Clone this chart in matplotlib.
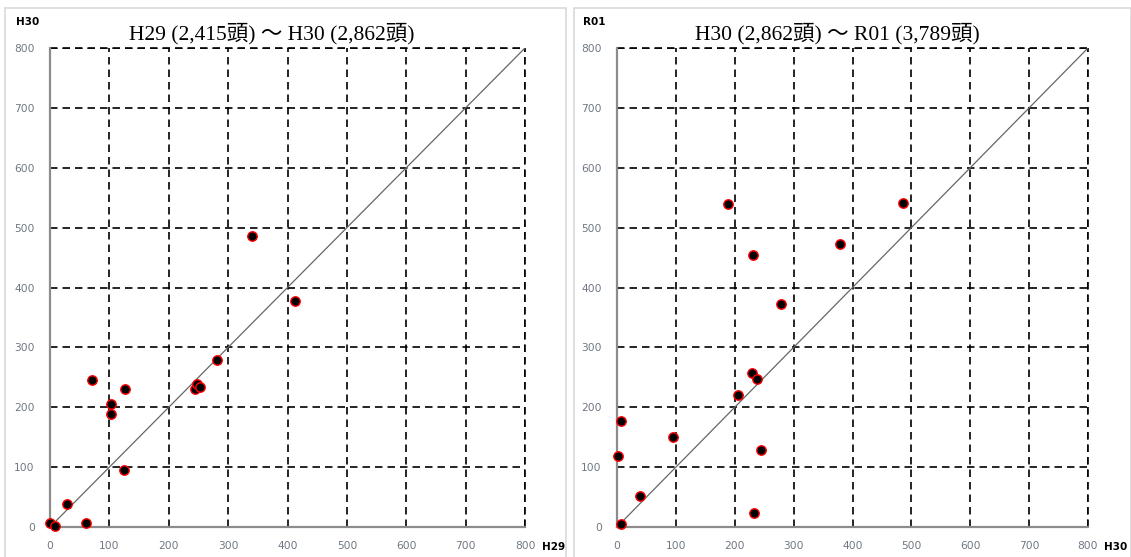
import matplotlib.pyplot as plt
from matplotlib.patches import Rectangle

# H29 -> H30 (farm sizes, heads)
h29_a = [0, 8, 61, 29, 71, 103, 103, 126, 124, 244, 247, 252, 282, 341, 413]
h30_a = [7, 2, 6, 39, 245, 205, 189, 230, 95, 231, 238, 233, 279, 486, 378]

# H30 -> R01
h30_b = [2, 6, 7, 39, 95, 205, 245, 230, 231, 233, 238, 189, 279, 378, 486]
r01_b = [118, 5, 177, 51, 150, 220, 128, 258, 454, 24, 248, 540, 373, 473, 541]

titles = ["H29 (2,415頭) ～ H30 (2,862頭)", "H30 (2,862頭) ～ R01 (3,789頭)"]
xnames = ["H29", "H30"]
ynames = ["H30", "R01"]
ticks = list(range(0, 900, 100))

TITLE_FONT = ["Liberation Serif", "Noto Sans CJK JP"]
TICK_COLOR = "#6e7782"
DASH = (0, (4.5, 3))

fig = plt.figure(figsize=(11.31, 5.57), dpi=100)

# light panel frames
W, H = 1131, 557
for x0, x1 in [(5, 566), (574, 1131)]:
    fig.patches.append(Rectangle((x0 / W, -0.01), (x1 - x0) / W, (H - 8) / H + 0.01,
                                 transform=fig.transFigure, fill=False,
                                 edgecolor="#d9d9d9", linewidth=1.2))

positions = [[50 / W, 1 - 527 / H, 475 / W, 479 / H],
             [617 / W, 1 - 527 / H, 471 / W, 479 / H]]
datasets = [(h29_a, h30_a), (h30_b, r01_b)]

for i, (xs, ys) in enumerate(datasets):
    ax = fig.add_axes(positions[i])
    ax.set_xlim(0, 800)
    ax.set_ylim(0, 800)
    ax.set_xticks(ticks)
    ax.set_yticks(ticks)
    ax.grid(True, color="black", linestyle=DASH, linewidth=1.2)
    ax.set_axisbelow(True)
    for s in ["top", "right"]:
        ax.spines[s].set_visible(False)
    for s in ["left", "bottom"]:
        ax.spines[s].set_color("#8c8c8c")
        ax.spines[s].set_linewidth(1.6)
    # dashed border at 800
    ax.axhline(800, color="black", linestyle=DASH, linewidth=1.2, clip_on=False)
    ax.axvline(800, color="black", linestyle=DASH, linewidth=1.2, clip_on=False)
    ax.tick_params(length=0, labelsize=7.7, labelcolor=TICK_COLOR)
    ax.tick_params(axis="y", pad=11)
    ax.tick_params(axis="x", pad=10)

    ax.plot([0, 800], [0, 800], color="#666666", linewidth=0.9, zorder=3)
    ax.scatter(xs, ys, s=46, facecolor="black", edgecolor="red", linewidth=1.0,
               zorder=4, clip_on=False)

    ax.set_title(titles[i], fontsize=15.5, family=TITLE_FONT, pad=6, x=0.467)
    ax.text(-0.072, 1.055, ynames[i], transform=ax.transAxes, fontsize=7.5,
            fontweight="bold", ha="left", va="center")
    ax.text(1.035, -0.042, xnames[i], transform=ax.transAxes, fontsize=7.5,
            fontweight="bold", ha="left", va="center")

fig.savefig("out.png", dpi=100)
